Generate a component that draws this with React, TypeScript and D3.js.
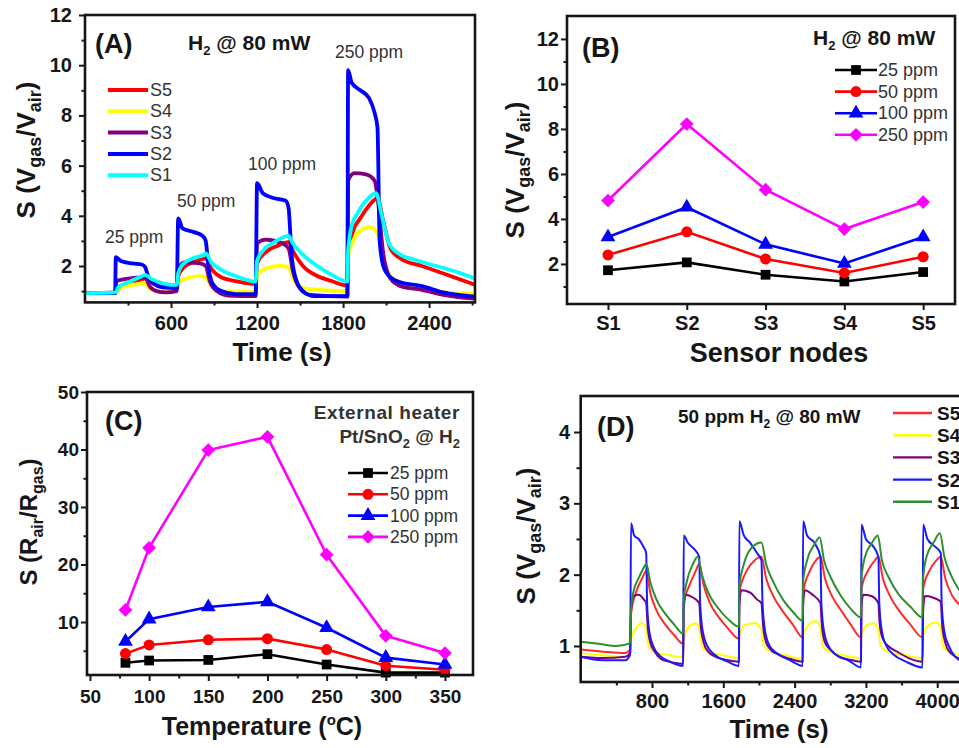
import React, { useEffect, useRef } from 'react'
import {
  axisBottom, axisLeft, scaleLinear, select, line, curveMonotoneX, curveLinear,
  symbol, symbolSquare, symbolCircle, symbolTriangle, symbolDiamond2,
} from 'd3'

const FONT = `'Liberation Sans', Arial, Helvetica, sans-serif`
const INK = '#161616'

// ---- (A) response of the five nodes, H2 pulses @ 80 mW  [time s, S]
const aS5 = [[0, 0.92], [215, 0.95], [230, 1.1], [300, 1.3], [380, 1.45], [420, 1.5], [460, 1.35], [520, 1.2], [640, 1.15],
  [650, 1.6], [690, 1.95], [780, 2.2], [842, 2.3], [880, 1.9], [950, 1.55], [1050, 1.4], [1190, 1.28],
  [1200, 2.1], [1250, 2.5], [1340, 2.8], [1420, 2.95], [1450, 2.6], [1520, 2.0], [1620, 1.6], [1720, 1.4], [1830, 1.22],
  [1835, 2.5], [1870, 3.4], [1920, 3.9], [1980, 4.4], [2040, 4.7], [2080, 3.8], [2130, 2.7], [2200, 2.3], [2350, 2.0], [2500, 1.7], [2720, 1.25]]
const aS4 = [[0, 0.92], [215, 0.93], [240, 1.1], [330, 1.25], [420, 1.3], [450, 1.1], [520, 0.98], [640, 0.98],
  [650, 1.3], [700, 1.5], [800, 1.6], [842, 1.55], [880, 1.2], [950, 1.0], [1190, 0.98],
  [1200, 1.6], [1260, 1.9], [1360, 2.0], [1420, 1.95], [1460, 1.4], [1540, 1.1], [1830, 1.0],
  [1835, 2.4], [1870, 3.0], [1930, 3.45], [1990, 3.55], [2040, 3.3], [2080, 2.3], [2130, 1.6], [2200, 1.35], [2350, 1.1], [2500, 0.95], [2720, 0.9]]
const aS3 = [[0, 0.92], [210, 0.92], [220, 1.4], [300, 1.5], [420, 1.55], [450, 1.2], [500, 1.0], [560, 0.95], [640, 1.0],
  [650, 1.9], [700, 2.15], [800, 2.1], [842, 2.0], [870, 1.4], [920, 1.0], [1000, 0.82], [1190, 0.8],
  [1200, 2.9], [1260, 3.05], [1380, 2.9], [1420, 2.7], [1450, 1.8], [1500, 1.1], [1570, 0.85], [1830, 0.78],
  [1835, 5.4], [1880, 5.7], [1960, 5.65], [2020, 5.4], [2045, 4.5], [2080, 2.5], [2130, 1.5], [2200, 1.2], [2350, 1.05], [2500, 0.85], [2720, 0.7]]
const aS2 = [[0, 0.92], [210, 0.92], [215, 2.35], [250, 2.2], [330, 2.1], [400, 2.05], [420, 1.95], [440, 1.6], [480, 1.3], [540, 1.15], [640, 1.12],
  [650, 3.9], [680, 3.5], [760, 3.35], [820, 3.2], [842, 3.0], [860, 2.0], [890, 1.3], [950, 1.0], [1050, 0.88], [1190, 0.88],
  [1200, 5.3], [1240, 4.9], [1320, 4.7], [1400, 4.6], [1420, 4.3], [1440, 2.5], [1470, 1.5], [1520, 1.0], [1600, 0.8], [1830, 0.8],
  [1835, 9.8], [1860, 9.3], [1920, 9.0], [1980, 8.7], [2020, 8.1], [2040, 7.5], [2055, 3.0], [2080, 2.0], [2120, 1.6], [2200, 1.35], [2350, 1.2], [2500, 0.95], [2720, 0.78]]
const aS1 = [[0, 0.92], [215, 0.95], [230, 1.15], [300, 1.35], [380, 1.55], [420, 1.65], [460, 1.5], [520, 1.35], [600, 1.25], [640, 1.25],
  [650, 1.7], [680, 2.05], [750, 2.3], [830, 2.45], [842, 2.5], [880, 2.15], [950, 1.85], [1050, 1.6], [1190, 1.38],
  [1200, 2.2], [1240, 2.6], [1320, 2.95], [1420, 3.2], [1450, 2.9], [1520, 2.45], [1620, 2.0], [1720, 1.65], [1830, 1.38],
  [1835, 2.6], [1860, 3.6], [1900, 4.1], [1960, 4.6], [2030, 4.9], [2070, 4.0], [2120, 2.9], [2200, 2.45], [2300, 2.25], [2450, 2.0], [2600, 1.75], [2720, 1.5]]
const aPeaks = ['25 ppm', '50 ppm', '100 ppm', '250 ppm']

// ---- (B) response vs node
const nodes = ['S1', 'S2', 'S3', 'S4', 'S5']
const concs = ['25 ppm', '50 ppm', '100 ppm', '250 ppm']
const b25 = [1.72, 2.07, 1.52, 1.22, 1.64]
const b50 = [2.4, 3.43, 2.22, 1.6, 2.32]
const b100 = [3.2, 4.52, 2.87, 2.02, 3.2]
const b250 = [4.82, 8.22, 5.3, 3.55, 4.75]

// ---- (C) external heater, Pt/SnO2
const temps = [80, 100, 150, 200, 250, 300, 350]
const c25 = [2.9, 3.3, 3.4, 4.4, 2.6, 1.2, 1.2]
const c50 = [4.5, 6.0, 6.9, 7.1, 5.2, 2.4, 1.7]
const c100 = [6.6, 10.5, 12.6, 13.5, 9.0, 3.8, 2.6]
const c250 = [12.1, 22.9, 39.9, 42.2, 21.7, 7.6, 4.6]

// ---- (D) repeated 50 ppm pulses  [time s, S]
const dS5 = [[0, 0.95], [250, 0.92], [500, 0.9], [555, 0.95],
  [565, 1.45], [620, 1.75], [690, 1.95], [735, 2.05], [780, 1.75], [850, 1.5], [950, 1.3], [1050, 1.15], [1150, 1.03],
  [1156, 1.6], [1220, 1.85], [1290, 2.05], [1330, 2.15], [1380, 1.85], [1450, 1.6], [1550, 1.4], [1650, 1.25], [1775, 1.1],
  [1780, 1.75], [1860, 2.05], [1950, 2.2], [2028, 2.25], [2080, 1.95], [2160, 1.7], [2260, 1.5], [2380, 1.3], [2490, 1.12],
  [2495, 1.75], [2570, 2.05], [2640, 2.2], [2690, 2.25], [2740, 1.95], [2820, 1.7], [2920, 1.5], [3030, 1.3], [3145, 1.12],
  [3150, 1.8], [3220, 2.05], [3300, 2.2], [3340, 2.25], [3390, 1.95], [3470, 1.7], [3570, 1.5], [3700, 1.3], [3835, 1.12],
  [3842, 1.8], [3910, 2.05], [3990, 2.2], [4040, 2.25], [4090, 1.95], [4170, 1.7], [4250, 1.58], [4350, 1.45]]
const dS4 = [[0, 0.9], [250, 0.87], [500, 0.85], [555, 0.9],
  [565, 1.1], [620, 1.25], [690, 1.32], [735, 1.25], [760, 1.0], [820, 0.92], [1000, 0.87], [1150, 0.84],
  [1156, 1.1], [1220, 1.28], [1290, 1.32], [1330, 1.25], [1360, 1.0], [1430, 0.92], [1600, 0.87], [1775, 0.83],
  [1780, 1.15], [1850, 1.3], [1960, 1.32], [2028, 1.22], [2055, 1.0], [2130, 0.92], [2300, 0.87], [2490, 0.82],
  [2495, 1.15], [2560, 1.3], [2640, 1.35], [2690, 1.25], [2715, 1.0], [2790, 0.92], [2950, 0.87], [3145, 0.83],
  [3150, 1.15], [3220, 1.3], [3290, 1.32], [3340, 1.22], [3365, 1.0], [3440, 0.92], [3650, 0.87], [3835, 0.83],
  [3842, 1.15], [3910, 1.3], [3990, 1.33], [4040, 1.25], [4065, 1.0], [4140, 0.92], [4350, 0.85]]
const dS3 = [[0, 0.85], [250, 0.83], [500, 0.85], [555, 0.9],
  [565, 1.5], [590, 1.7], [650, 1.72], [710, 1.65], [735, 1.6], [750, 1.3], [780, 1.05], [830, 0.92], [900, 0.82], [1000, 0.78], [1150, 0.75],
  [1156, 1.5], [1180, 1.72], [1260, 1.68], [1330, 1.6], [1345, 1.3], [1380, 1.05], [1430, 0.92], [1510, 0.85], [1650, 0.8], [1775, 0.78],
  [1780, 1.55], [1800, 1.78], [1900, 1.75], [1980, 1.65], [2028, 1.6], [2045, 1.3], [2080, 1.05], [2130, 0.95], [2220, 0.88], [2350, 0.82], [2490, 0.78],
  [2495, 1.55], [2515, 1.78], [2600, 1.72], [2690, 1.6], [2705, 1.3], [2740, 1.05], [2800, 0.95], [2900, 0.85], [3050, 0.8], [3145, 0.78],
  [3150, 1.55], [3170, 1.72], [3260, 1.7], [3340, 1.6], [3355, 1.3], [3390, 1.1], [3450, 1.0], [3550, 0.92], [3700, 0.82], [3835, 0.78],
  [3842, 1.5], [3862, 1.7], [3950, 1.68], [4040, 1.62], [4055, 1.3], [4090, 1.05], [4150, 0.9], [4350, 0.78]]
const dS2 = [[0, 0.85], [250, 0.8], [500, 0.8], [555, 0.88],
  [565, 2.72], [600, 2.55], [650, 2.5], [700, 2.4], [735, 2.3], [745, 1.6], [770, 1.2], [820, 0.98], [900, 0.85], [1000, 0.78], [1150, 0.72],
  [1156, 2.55], [1200, 2.45], [1280, 2.35], [1330, 2.25], [1340, 1.6], [1370, 1.2], [1420, 1.0], [1500, 0.88], [1650, 0.78], [1775, 0.72],
  [1780, 2.75], [1830, 2.55], [1900, 2.45], [1980, 2.3], [2028, 2.2], [2040, 1.6], [2070, 1.2], [2120, 1.0], [2200, 0.9], [2350, 0.8], [2490, 0.72],
  [2495, 2.75], [2540, 2.55], [2620, 2.45], [2690, 2.25], [2700, 1.6], [2730, 1.2], [2780, 1.0], [2860, 0.88], [3000, 0.8], [3145, 0.7],
  [3150, 2.7], [3200, 2.5], [3280, 2.4], [3340, 2.25], [3350, 1.6], [3380, 1.2], [3430, 1.0], [3510, 0.88], [3650, 0.78], [3835, 0.7],
  [3842, 2.7], [3890, 2.5], [3970, 2.4], [4040, 2.3], [4050, 1.6], [4080, 1.2], [4130, 1.0], [4200, 0.85], [4350, 0.75]]
const dS1 = [[0, 1.06], [200, 1.03], [400, 1.0], [555, 1.04],
  [565, 1.5], [590, 1.75], [650, 1.95], [700, 2.08], [737, 2.15], [780, 1.9], [850, 1.65], [950, 1.45], [1050, 1.3], [1150, 1.17],
  [1156, 1.65], [1190, 1.9], [1260, 2.15], [1313, 2.25], [1360, 2.0], [1430, 1.75], [1530, 1.55], [1650, 1.38], [1775, 1.27],
  [1780, 1.85], [1820, 2.1], [1920, 2.38], [2028, 2.45], [2080, 2.15], [2160, 1.9], [2270, 1.65], [2380, 1.48], [2490, 1.35],
  [2495, 1.9], [2540, 2.2], [2620, 2.42], [2682, 2.52], [2730, 2.2], [2810, 1.95], [2920, 1.7], [3030, 1.52], [3145, 1.4],
  [3150, 1.95], [3190, 2.25], [3270, 2.45], [3333, 2.55], [3380, 2.2], [3460, 1.95], [3570, 1.72], [3700, 1.55], [3835, 1.4],
  [3842, 1.95], [3880, 2.25], [3960, 2.45], [4030, 2.58], [4080, 2.25], [4160, 1.98], [4240, 1.8], [4350, 1.65]]

const sensorKeys = ['S5', 'S4', 'S3', 'S2', 'S1']
const aSeries = [aS5, aS4, aS3, aS2, aS1]
const aColors = ['#ff0000', '#ffff00', '#800080', '#0000ff', '#00ffff']
const dSeries = [dS5, dS4, dS3, dS2, dS1]
const dColors = ['#ff2a2a', '#ffff00', '#800080', '#1a1aff', '#2e8f2e']
const concColors = ['#000000', '#ff0000', '#0000ff', '#ff00ff']
const concShapes = [symbolSquare, symbolCircle, symbolTriangle, symbolDiamond2]
const shapeSizes = [95, 95, 95, 120]

const Axis = ({ side, scale, major, minor = [], fmt = (d) => `${d}`, at, size = 20, pad = 6 }) => {
  const ref = useRef(null)
  useEffect(() => {
    const g = select(ref.current)
    g.selectAll('*').remove()
    const make = side === 'bottom' ? axisBottom : axisLeft
    if (minor.length) {
      const m = g.append('g').call(make(scale).tickValues(minor).tickSize(3.5).tickFormat(() => ''))
      m.select('.domain').remove()
      m.selectAll('line').attr('stroke', INK).attr('stroke-width', 2)
    }
    const a = g.append('g').call(make(scale).tickValues(major).tickSize(6).tickPadding(pad).tickFormat(fmt))
    a.select('.domain').remove()
    a.selectAll('line').attr('stroke', INK).attr('stroke-width', 2)
    a.selectAll('text').attr('fill', INK).attr('font-size', size).attr('font-weight', 'bold').attr('font-family', FONT)
  }, [scale, side])
  return <g ref={ref} transform={side === 'bottom' ? `translate(0,${at})` : `translate(${at},0)`} />
}

const Marker = ({ type, size, x, y, color }) => (
  <path d={symbol().type(type).size(size)()} transform={`translate(${x},${y})`} fill={color} />
)

const YTitle = ({ x, y, size, children }) => (
  <text transform={`translate(${x},${y}) rotate(-90)`} textAnchor="middle" fontSize={size} fontWeight="bold" fill={INK}>{children}</text>
)

// panel scales
const xA = scaleLinear().domain([0, 2720]).range([85, 475])
const yA = scaleLinear().domain([0.55, 12]).range([302.4, 15])
const xB = scaleLinear().domain([0.48, 5.404]).range([567, 955])
const yB = scaleLinear().domain([0.22, 13.02]).range([304, 16])
const xC = scaleLinear().domain([47.5, 373.7]).range([87, 473])
const yC = scaleLinear().domain([0.78, 50]).range([675, 392])
const xD = scaleLinear().domain([0, 4480]).range([580.7, 980])
const yD = scaleLinear().domain([0.495, 4.505]).range([682, 396])

const lineA = line().x((d) => xA(d[0])).y((d) => yA(d[1])).curve(curveMonotoneX)
const lineD = line().x((d) => xD(d[0])).y((d) => yD(d[1])).curve(curveMonotoneX)
const lineB = line().x((d, i) => xB(i + 1)).y((d) => yB(d)).curve(curveLinear)
const lineC = line().x((d, i) => xC(temps[i])).y((d) => yC(d)).curve(curveLinear)

const Frame = ({ x, y }) => (
  <rect x={x.range()[0]} y={y.range()[1]} width={x.range()[1] - x.range()[0]} height={y.range()[0] - y.range()[1]}
    fill="none" stroke={INK} strokeWidth={2.6} />
)

const App = () => {
  const bData = [b25, b50, b100, b250]
  const cData = [c25, c50, c100, c250]
  return (
    <svg width={959} height={748} style={{ position: 'absolute', left: 0, top: 0, background: '#fff' }} fontFamily={FONT}>
      <defs>
        <clipPath id="clipA"><rect x={85} y={15} width={390} height={287} /></clipPath>
        <clipPath id="clipD"><rect x={580} y={396} width={400} height={286} /></clipPath>
      </defs>

      {/* ---------- (A) ---------- */}
      <g clipPath="url(#clipA)">
        {aSeries.map((s, i) => (
          <path key={sensorKeys[i]} d={lineA(s)} fill="none" stroke={aColors[i]} strokeWidth={3.8} strokeLinejoin="round" />
        ))}
      </g>
      <Frame x={xA} y={yA} />
      <Axis side="bottom" scale={xA} at={302} major={[600, 1200, 1800, 2400]} minor={[300, 900, 1500, 2100, 2700]} pad={8} />
      <Axis side="left" scale={yA} at={85} major={[2, 4, 6, 8, 10, 12]} minor={[1, 3, 5, 7, 9, 11]} pad={7} />
      <text x={95} y={53} fontSize={27} fontWeight="bold" fill={INK}>(A)</text>
      <text x={188} y={50} fontSize={21} fontWeight="bold" fill={INK}>H<tspan fontSize={13} dy={5}>2</tspan><tspan dy={-5}> @ 80 mW</tspan></text>
      <g fontSize={17.5} fill="#333">
        <text x={105} y={243}>{aPeaks[0]}</text>
        <text x={177} y={207}>{aPeaks[1]}</text>
        <text x={248} y={170}>{aPeaks[2]}</text>
        <text x={335} y={58}>{aPeaks[3]}</text>
      </g>
      {sensorKeys.map((k, i) => (
        <g key={`la-${k}`}>
          <line x1={108} x2={148} y1={90 + i * 21.3} y2={90 + i * 21.3} stroke={aColors[i]} strokeWidth={4} />
          <text x={150} y={96 + i * 21.3} fontSize={18} fill="#333">{k}</text>
        </g>
      ))}
      <text x={282} y={361} textAnchor="middle" fontSize={26} fontWeight="bold" fill={INK}>Time (s)</text>
      <YTitle x={35} y={150} size={26}>S (V<tspan fontSize={18} dy={6}>gas</tspan><tspan dy={-6}>/V</tspan><tspan fontSize={18} dy={6}>air</tspan><tspan dy={-6}>)</tspan></YTitle>

      {/* ---------- (B) ---------- */}
      {bData.map((vals, i) => (
        <g key={`b-${concs[i]}`}>
          <path d={lineB(vals)} fill="none" stroke={concColors[i]} strokeWidth={2.6} />
          {vals.map((v, j) => (
            <Marker key={j} type={concShapes[i]} size={shapeSizes[i]} x={xB(j + 1)} y={yB(v)} color={concColors[i]} />
          ))}
        </g>
      ))}
      <Frame x={xB} y={yB} />
      <Axis side="bottom" scale={xB} at={304} major={[1, 2, 3, 4, 5]} fmt={(d) => nodes[d - 1]} pad={6} />
      <Axis side="left" scale={yB} at={567} major={[2, 4, 6, 8, 10, 12]} minor={[1, 3, 5, 7, 9, 11]} pad={2} />
      <text x={582} y={57} fontSize={27} fontWeight="bold" fill={INK}>(B)</text>
      <text x={813} y={45} fontSize={21} fontWeight="bold" fill={INK}>H<tspan fontSize={13} dy={5}>2</tspan><tspan dy={-5}> @ 80 mW</tspan></text>
      {concs.map((c, i) => (
        <g key={`lb-${c}`}>
          <line x1={835} x2={877} y1={70 + i * 21.6} y2={70 + i * 21.6} stroke={concColors[i]} strokeWidth={2.6} />
          <Marker type={concShapes[i]} size={shapeSizes[i]} x={856} y={70 + i * 21.6} color={concColors[i]} />
          <text x={878} y={76 + i * 21.6} fontSize={18} fill="#333">{c}</text>
        </g>
      ))}
      <text x={779} y={362} textAnchor="middle" fontSize={27} fontWeight="bold" fill={INK}>Sensor nodes</text>
      <YTitle x={524} y={170} size={26}>S (V<tspan fontSize={18} dy={6}>gas</tspan><tspan dy={-6}>/V</tspan><tspan fontSize={18} dy={6}>air</tspan><tspan dy={-6}>)</tspan></YTitle>

      {/* ---------- (C) ---------- */}
      {cData.map((vals, i) => (
        <g key={`c-${concs[i]}`}>
          <path d={lineC(vals)} fill="none" stroke={concColors[i]} strokeWidth={2.6} />
          {vals.map((v, j) => (
            <Marker key={j} type={concShapes[i]} size={shapeSizes[i]} x={xC(temps[j])} y={yC(v)} color={concColors[i]} />
          ))}
        </g>
      ))}
      <Frame x={xC} y={yC} />
      <Axis side="bottom" scale={xC} at={675} major={[50, 100, 150, 200, 250, 300, 350]} minor={[75, 125, 175, 225, 275, 325]} size={19} pad={9} />
      <Axis side="left" scale={yC} at={87} major={[10, 20, 30, 40, 50]} minor={[5, 15, 25, 35, 45]} size={19} pad={2} />
      <text x={105} y={430} fontSize={27} fontWeight="bold" fill={INK}>(C)</text>
      <text x={460} y={419} textAnchor="end" fontSize={19} fontWeight="bold" fill="#333" letterSpacing={0.6}>External heater</text>
      <text x={460} y={443} textAnchor="end" fontSize={19} fontWeight="bold" fill="#333">Pt/SnO<tspan fontSize={13} dy={5}>2</tspan><tspan dy={-5}> @ H</tspan><tspan fontSize={13} dy={5}>2</tspan></text>
      {concs.map((c, i) => (
        <g key={`lc-${c}`}>
          <line x1={348} x2={388} y1={473 + i * 21.3} y2={473 + i * 21.3} stroke={concColors[i]} strokeWidth={2.6} />
          <Marker type={concShapes[i]} size={shapeSizes[i]} x={368} y={473 + i * 21.3} color={concColors[i]} />
          <text x={390} y={479 + i * 21.3} fontSize={17.5} fill="#333">{c}</text>
        </g>
      ))}
      <text x={262} y={735} textAnchor="middle" fontSize={25} fontWeight="bold" fill={INK}>Temperature (<tspan fontSize={15} dy={-10}>o</tspan><tspan dy={10}>C)</tspan></text>
      <YTitle x={37} y={522} size={24}>S (R<tspan fontSize={16} dy={6}>air</tspan><tspan dy={-6}>/R</tspan><tspan fontSize={16} dy={6}>gas</tspan><tspan dy={-6}>)</tspan></YTitle>

      {/* ---------- (D) ---------- */}
      <g clipPath="url(#clipD)">
        {dSeries.map((s, i) => (
          <path key={`d-${sensorKeys[i]}`} d={lineD(s)} fill="none" stroke={dColors[i]} strokeWidth={2} strokeLinejoin="round" />
        ))}
      </g>
      <Frame x={xD} y={yD} />
      <Axis side="bottom" scale={xD} at={682} major={[800, 1600, 2400, 3200, 4000]} minor={[400, 1200, 2000, 2800, 3600, 4400]} pad={6} />
      <Axis side="left" scale={yD} at={580} major={[1, 2, 3, 4]} minor={[1.5, 2.5, 3.5]} pad={4} />
      <text x={597} y={436} fontSize={27} fontWeight="bold" fill={INK}>(D)</text>
      <text x={678} y={423} fontSize={19} fontWeight="bold" fill={INK}>50 ppm H<tspan fontSize={12} dy={5}>2</tspan><tspan dy={-5}> @ 80 mW</tspan></text>
      {sensorKeys.map((k, i) => (
        <g key={`ld-${k}`}>
          <line x1={893} x2={932} y1={413 + i * 22.2} y2={413 + i * 22.2} stroke={dColors[i]} strokeWidth={2.4} />
          <text x={937} y={420 + i * 22.2} fontSize={19} fontWeight="bold" fill={INK}>{k}</text>
        </g>
      ))}
      <text x={779} y={738} textAnchor="middle" fontSize={26} fontWeight="bold" fill={INK}>Time (s)</text>
      <YTitle x={535} y={536} size={26}>S (V<tspan fontSize={18} dy={6}>gas</tspan><tspan dy={-6}>/V</tspan><tspan fontSize={18} dy={6}>air</tspan><tspan dy={-6}>)</tspan></YTitle>
    </svg>
  )
}

export default App
